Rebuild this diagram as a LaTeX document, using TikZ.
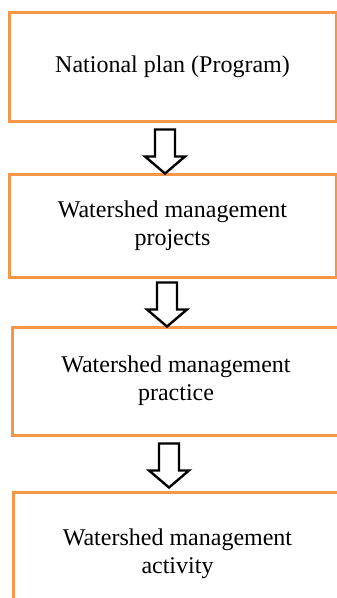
\documentclass[tikz,border=0pt]{standalone}
\usepackage{fontspec}
\setmainfont{Liberation Serif}
\usetikzlibrary{calc}
\definecolor{boxorange}{RGB}{247,150,70}
\begin{document}
\begin{tikzpicture}[x=1pt,y=-1pt,
  stagebox/.style={draw=boxorange,line width=3pt,fill=white,align=center,
    font=\fontsize{24}{27.6}\selectfont,inner sep=0pt},
  blockarrow/.style={draw=black,line width=2.4pt,fill=white,line join=miter},
  hollowdown/.pic={
    \path[blockarrow] (-10,0) -- (10,0) -- (10,27) -- (20,27) -- (0,44)
      -- (-20,27) -- (-10,27) -- cycle;
  }]
\useasboundingbox (0,0) rectangle (337,598);
\clip (0,0) rectangle (337,598);

% stages of the planning hierarchy
\node[stagebox,minimum width=327pt,minimum height=109pt] (b1) at (172.5,66.5)
  {\raisebox{-4pt}{National plan (Program)}};
\node[stagebox,minimum width=327pt,minimum height=103pt] (b2) at (172.5,225.5)
  {Watershed management\\projects};
\node[stagebox,minimum width=328pt,minimum height=108pt] (b3) at (176,381)
  {Watershed management\\practice};
\node[stagebox,minimum width=329pt,minimum height=124pt] (b4) at (177.5,554)
  {Watershed management\\activity};

% hollow block arrows between consecutive stages
\pic (a1) at ($(b1.south)+(-7.5,7)$) {hollowdown};
\pic (a2) at ($(b2.south)+(-5.5,4)$) {hollowdown};
\pic (a3) at ($(b3.south)+(-7,7)$) {hollowdown};
\end{tikzpicture}
\end{document}
